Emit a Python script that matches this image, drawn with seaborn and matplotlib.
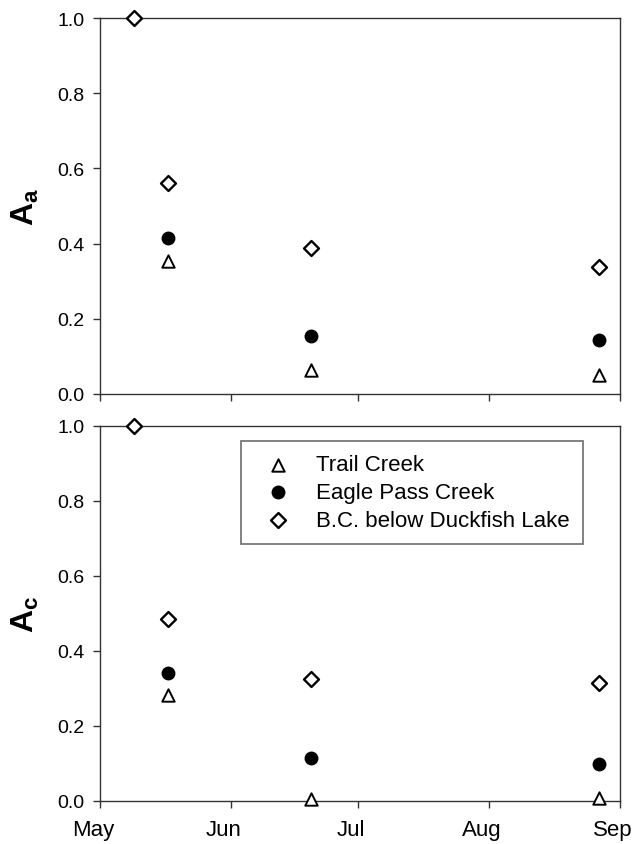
import pandas as pd
import seaborn as sns
import matplotlib.pyplot as plt
import matplotlib.dates as mdates
from matplotlib.ticker import FormatStrFormatter
from matplotlib.transforms import ScaledTranslation

# sampling dates (year unknown, only month/day matter)
sample_dates = ['2007-05-09', '2007-05-17', '2007-06-20', '2007-08-27']
sites = ['Trail Creek', 'Eagle Pass Creek', 'B.C. below Duckfish Lake']

# Aa values (top panel); first sample only the diamond is visible
aa_trail = [None, 0.355, 0.064, 0.051]
aa_eagle = [None, 0.416, 0.155, 0.144]
aa_bc = [1.0, 0.561, 0.387, 0.339]

# Ac values (bottom panel)
ac_trail = [None, 0.283, 0.005, 0.007]
ac_eagle = [None, 0.342, 0.116, 0.100]
ac_bc = [1.0, 0.485, 0.325, 0.315]

rows = []
for site, aa, ac in zip(sites, [aa_trail, aa_eagle, aa_bc], [ac_trail, ac_eagle, ac_bc]):
    for d, a1, a2 in zip(sample_dates, aa, ac):
        rows.append({'date': pd.Timestamp(d), 'site': site, 'Aa': a1, 'Ac': a2})
df = pd.DataFrame(rows)

sns.set_style('ticks')
plt.rcParams['font.family'] = ['Liberation Sans', 'DejaVu Sans']
plt.rcParams['mathtext.default'] = 'regular'
plt.rcParams['text.color'] = 'black'
plt.rcParams['axes.labelcolor'] = 'black'
plt.rcParams['xtick.labelcolor'] = 'black'
plt.rcParams['ytick.labelcolor'] = 'black'

marker_styles = {
    'Trail Creek': dict(marker='^', s=80, facecolor='white', edgecolor='black', linewidth=1.4),
    'Eagle Pass Creek': dict(marker='o', s=100, color='black', edgecolor='black', linewidth=0),
    'B.C. below Duckfish Lake': dict(marker='D', s=58, facecolor='white', edgecolor='black', linewidth=1.7),
}

fig, (ax1, ax2) = plt.subplots(2, 1, figsize=(6.34, 8.45), dpi=100)
ax1.set_position([100 / 634, 1 - 395 / 845, 520 / 634, 376 / 845])
ax2.set_position([100 / 634, 1 - 802 / 845, 520 / 634, 375 / 845])

spine_col = '#333333'
for ax, col, lab in [(ax1, 'Aa', r'A$_\mathregular{a}$'), (ax2, 'Ac', r'A$_\mathregular{c}$')]:
    for z, site in enumerate(sites):
        sub = df[df['site'] == site]
        sns.scatterplot(data=sub, x='date', y=col, ax=ax, label=site, clip_on=False,
                        zorder=3 + z, **marker_styles[site])
    ax.set_xlim(pd.Timestamp('2007-05-01'), pd.Timestamp('2007-09-01'))
    ax.set_ylim(0, 1)
    ax.set_yticks([0.0, 0.2, 0.4, 0.6, 0.8, 1.0])
    ax.yaxis.set_major_formatter(FormatStrFormatter('%.1f'))
    ax.xaxis.set_major_locator(mdates.MonthLocator())
    ax.xaxis.set_major_formatter(mdates.DateFormatter('%b'))
    ax.set_xlabel('')
    ax.set_ylabel(lab, fontsize=23, fontweight='bold', labelpad=12)
    for sp in ax.spines.values():
        sp.set_visible(True)
        sp.set_color(spine_col)
        sp.set_linewidth(1.0)
    ax.tick_params(axis='both', direction='out', length=5, width=1.0, color=spine_col)
    ax.tick_params(axis='y', labelsize=14, pad=6)
    ax.tick_params(axis='x', labelsize=16, pad=8)

ax1.tick_params(axis='x', labelbottom=False)
ax1.get_legend().remove()

# month labels sit slightly left of their ticks in the original
fig.canvas.draw()
for lbl in ax2.get_xticklabels():
    lbl.set_transform(lbl.get_transform() + ScaledTranslation(-7 / 100, 0, fig.dpi_scale_trans))

leg = ax2.legend(loc='upper right', bbox_to_anchor=(0.929, 0.96), borderaxespad=0,
                 fontsize=16, frameon=True, fancybox=False, edgecolor='#555555',
                 handletextpad=0.6, borderpad=0.6, labelspacing=0.3, handlelength=2.2)
leg.get_frame().set_linewidth(1.3)

fig.savefig('out.png', dpi=100)
